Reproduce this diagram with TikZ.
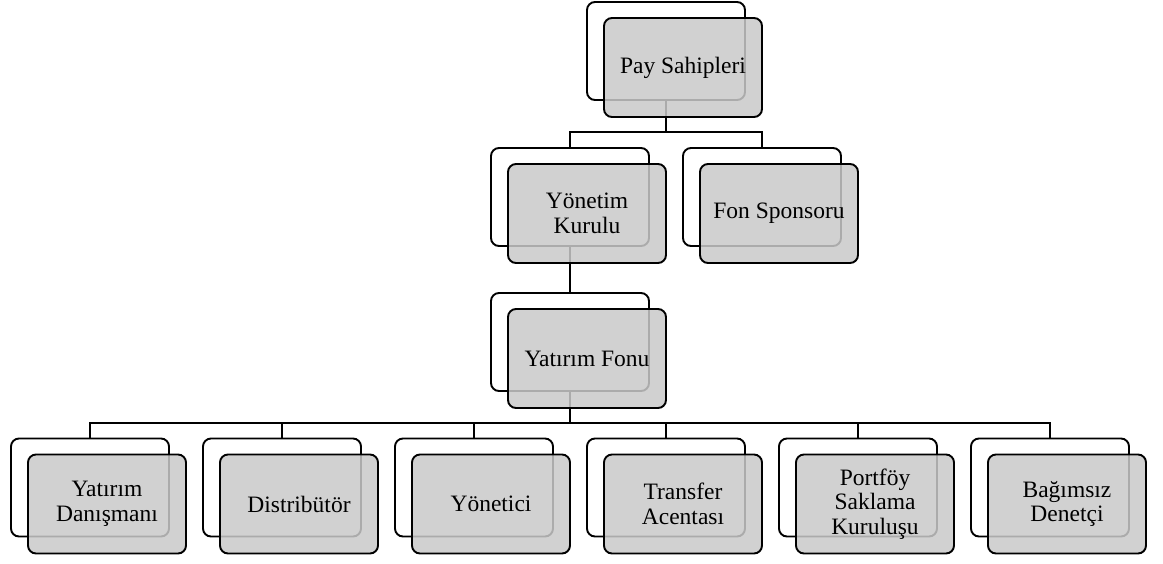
\documentclass[tikz,border=0pt]{standalone}
\usepackage{fontspec}
\setmainfont{Liberation Serif}
\begin{document}
\begin{tikzpicture}[x=1pt,y=-1pt,
  backbox/.style={draw=black, line width=1.9pt, rounded corners=8pt, fill=white,
    minimum width=158pt, minimum height=98pt, inner sep=0pt},
  frontbox/.style={draw=black, line width=1.9pt, rounded corners=8pt, fill=black!21,
    fill opacity=0.85, text opacity=1, minimum width=158pt, minimum height=99pt,
    inner sep=0pt, align=center, font=\fontsize{23.5}{24.5}\selectfont},
  conn/.style={draw=black, line width=1.9pt}]
\useasboundingbox (0,0) rectangle (1163,563);
% back boxes
\node[backbox] (pay) at (666,51) {};
\node[backbox] (yk) at (570,197) {};
\node[backbox] (fon) at (762,197) {};
\node[backbox] (yf) at (570,342) {};
\node[backbox] (c1) at (90,487.5) {};
\node[backbox] (c2) at (282,487.5) {};
\node[backbox] (c3) at (474,487.5) {};
\node[backbox] (c4) at (666,487.5) {};
\node[backbox] (c5) at (858,487.5) {};
\node[backbox] (c6) at (1050,487.5) {};
% connectors
\coordinate (b1) at (666,132);
\coordinate (b2) at (570,423);
\draw[conn] (pay.south) -- (b1) -| (yk.north);
\draw[conn] (b1) -| (fon.north);
\draw[conn] (yk.south) -- (yf.north);
\draw[conn] (yf.south) -- (b2);
\foreach \c in {c1,c2,c3,c4,c5,c6} {\draw[conn] (b2) -| (\c.north);}
% front boxes
\node[frontbox] (payF) at ([shift={(17,16.5)}]pay.center) {Pay Sahipleri};
\node[frontbox] (ykF) at ([shift={(17,16.5)}]yk.center) {Yönetim\\Kurulu};
\node[frontbox] (fonF) at ([shift={(17,16.5)}]fon.center) {Fon Sponsoru};
\node[frontbox] (yfF) at ([shift={(17,16.5)}]yf.center) {Yatırım Fonu};
\node[frontbox] (c1F) at ([shift={(17,16.5)}]c1.center) {Yatırım\\Danışmanı};
\node[frontbox] (c2F) at ([shift={(17,16.5)}]c2.center) {Distribütör};
\node[frontbox] (c3F) at ([shift={(17,16.5)}]c3.center) {Yönetici};
\node[frontbox] (c4F) at ([shift={(17,16.5)}]c4.center) {Transfer\\Acentası};
\node[frontbox] (c5F) at ([shift={(17,16.5)}]c5.center) {Portföy\\Saklama\\Kuruluşu};
\node[frontbox] (c6F) at ([shift={(17,16.5)}]c6.center) {Bağımsız\\Denetçi};
\end{tikzpicture}
\end{document}
